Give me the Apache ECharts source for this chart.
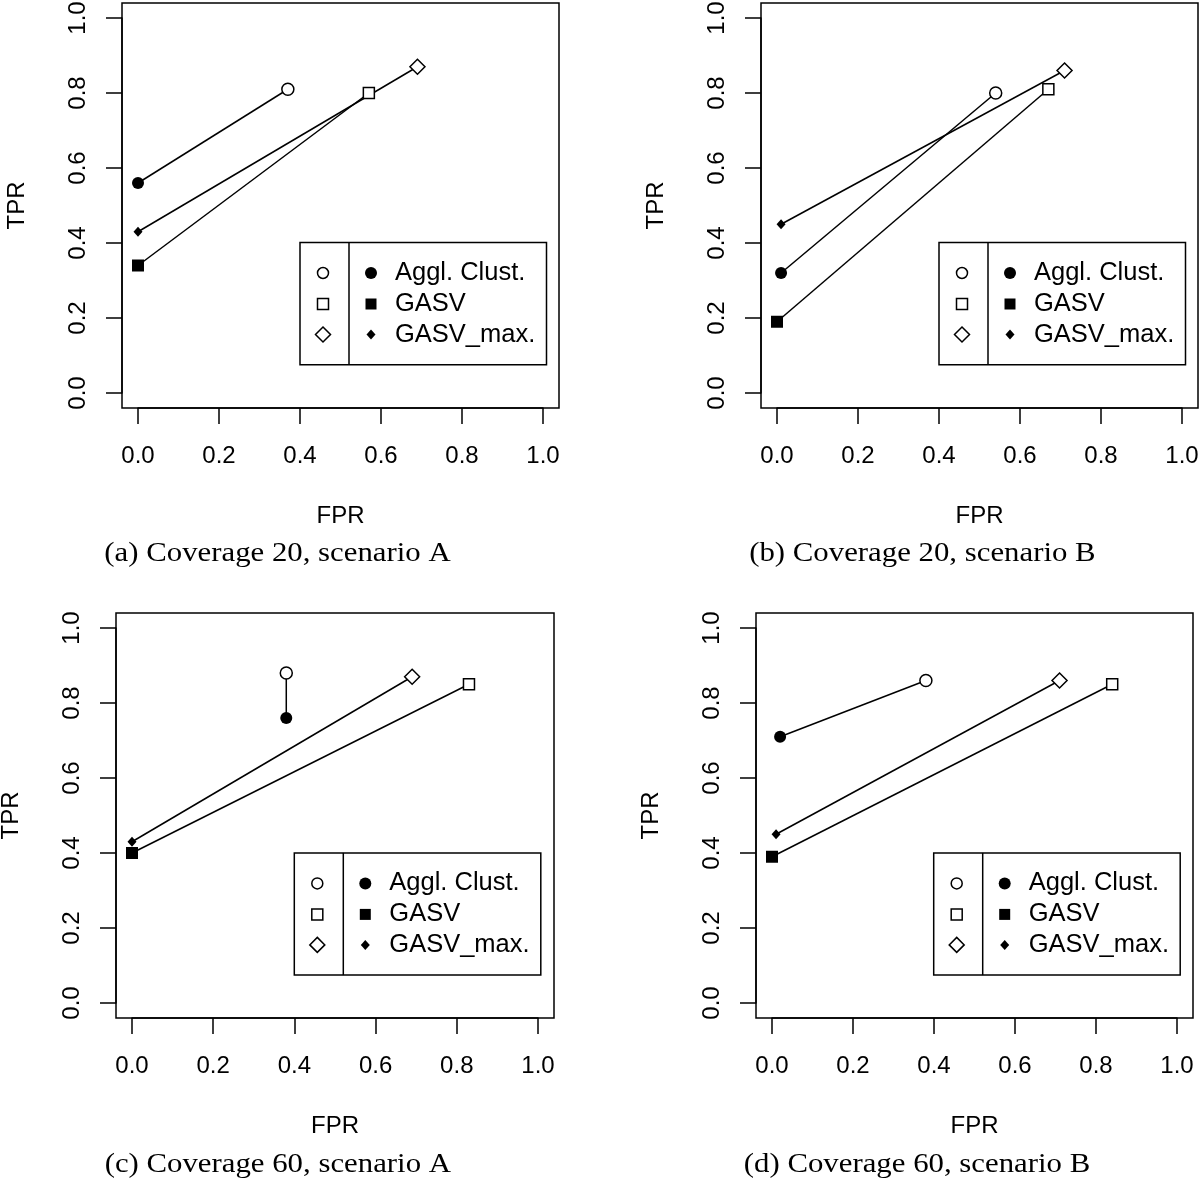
<!DOCTYPE html>
<html><head><meta charset="utf-8">
<script src="https://cdn.jsdelivr.net/npm/echarts@6/dist/echarts.min.js"></script>
<style>html,body{margin:0;padding:0;background:#fff}#c{width:1200px;height:1181px}</style>
</head><body><div id="c"></div>
<script>
// ---------- data ----------
const methods = ['Aggl. Clust.', 'GASV', 'GASV_max.'];
const captions = ['(a) Coverage 20, scenario A', '(b) Coverage 20, scenario B',
                  '(c) Coverage 60, scenario A', '(d) Coverage 60, scenario B'];
const tickValues = [0, 0.2, 0.4, 0.6, 0.8, 1.0];
const xTitle = 'FPR';
const yTitle = 'TPR';

// open symbols (one value per method) and filled symbols
const aOpenFPR = [0.37, 0.57, 0.69], aOpenTPR = [0.81, 0.80, 0.87];
const aFillFPR = [0.00, 0.00, 0.00], aFillTPR = [0.56, 0.34, 0.43];
const bOpenFPR = [0.54, 0.67, 0.71], bOpenTPR = [0.80, 0.81, 0.86];
const bFillFPR = [0.01, 0.00, 0.01], bFillTPR = [0.32, 0.19, 0.45];
const cOpenFPR = [0.38, 0.83, 0.69], cOpenTPR = [0.88, 0.85, 0.87];
const cFillFPR = [0.38, 0.00, 0.00], cFillTPR = [0.76, 0.40, 0.43];
const dOpenFPR = [0.38, 0.84, 0.71], dOpenTPR = [0.86, 0.85, 0.86];
const dFillFPR = [0.02, 0.00, 0.01], dFillTPR = [0.71, 0.39, 0.45];

const panelData = [
  [aOpenFPR, aOpenTPR, aFillFPR, aFillTPR],
  [bOpenFPR, bOpenTPR, bFillFPR, bFillTPR],
  [cOpenFPR, cOpenTPR, cFillFPR, cFillTPR],
  [dOpenFPR, dOpenTPR, dFillFPR, dFillTPR]
];

// ---------- layout & style ----------
const SANS = 'Liberation Sans, Arial, Helvetica, sans-serif';
const SERIF = 'Liberation Serif, Times New Roman, serif';
const FS = 24;
const LFS = 25.5;
const LW = 1.5;
const grids = [
  {left: 138, top: 18, width: 405, height: 375},
  {left: 777, top: 18, width: 405, height: 375},
  {left: 132, top: 628, width: 406, height: 375},
  {left: 772, top: 628, width: 405, height: 375}
];
const padX = 16, padY = 15;   // R's 4% range extension, in px
const captionPos = [[277.5, 553.7], [922.4, 553.7], [277.8, 1164.8], [917, 1164.8]];
const legendPos = [[300, 242.5], [939, 242.5], [294.3, 852.9], [933.7, 852.9]];

const openSym = ['circle', 'rect', 'diamond'];
const openSize = [12, 11, [15, 15]];
const fillSym = ['circle', 'rect', 'diamond'];
const fillSize = [12, 12, [9, 10]];

const option = {
  animation: false,
  backgroundColor: '#fff',
  grid: [], xAxis: [], yAxis: [], series: [], graphic: []
};

grids.forEach((g, p) => {
  option.grid.push({left: g.left, top: g.top, width: g.width, height: g.height,
                    containLabel: false, outerBoundsMode: 'none'});
  option.xAxis.push({
    type: 'value', gridIndex: p, min: 0, max: 1, interval: 0.2, offset: padY,
    axisLine: {show: true, onZero: false, lineStyle: {color: '#000', width: LW}},
    axisTick: {show: true, length: 16, lineStyle: {color: '#000', width: LW}},
    axisLabel: {formatter: v => v.toFixed(1), fontSize: FS, fontFamily: SANS, color: '#000', margin: 36,
                showMinLabel: true, showMaxLabel: true},
    splitLine: {show: false},
    name: xTitle, nameLocation: 'middle', nameGap: 96,
    nameTextStyle: {fontSize: FS, fontFamily: SANS, color: '#000'}
  });
  option.yAxis.push({
    type: 'value', gridIndex: p, min: 0, max: 1, interval: 0.2, offset: padX,
    axisLine: {show: true, onZero: false, lineStyle: {color: '#000', width: LW}},
    axisTick: {show: true, length: 16, lineStyle: {color: '#000', width: LW}},
    axisLabel: {formatter: v => v.toFixed(1), fontSize: FS, fontFamily: SANS, color: '#000', margin: 32,
                rotate: 90, showMinLabel: true, showMaxLabel: true},
    splitLine: {show: false},
    name: yTitle, nameLocation: 'middle', nameGap: 93,
    nameTextStyle: {fontSize: FS, fontFamily: SANS, color: '#000'}
  });

  const [oF, oT, fF, fT] = panelData[p];
  methods.forEach((m, i) => {
    option.series.push({
      type: 'line', name: m + ' ' + p, xAxisIndex: p, yAxisIndex: p,
      clip: false, silent: true, showSymbol: true, showAllSymbol: true,
      lineStyle: {color: '#000', width: LW},
      emphasis: {disabled: true},
      data: [
        {value: [oF[i], oT[i]], symbol: openSym[i], symbolSize: openSize[i],
         itemStyle: {color: '#fff', borderColor: '#000', borderWidth: LW}},
        {value: [fF[i], fT[i]], symbol: fillSym[i], symbolSize: fillSize[i],
         itemStyle: {color: '#000', borderColor: '#000', borderWidth: 0}}
      ]
    });
  });

  // plot box (R-style: range extended 4% on each side)
  option.graphic.push({
    type: 'rect', silent: true, z: 100,
    shape: {x: g.left - padX, y: g.top - padY, width: g.width + 2 * padX, height: g.height + 2 * padY},
    style: {fill: 'none', stroke: '#000', lineWidth: LW}
  });

  // caption
  option.graphic.push({
    type: 'text', silent: true, z: 100, x: captionPos[p][0], y: captionPos[p][1], scaleX: 1.1,
    style: {text: captions[p], x: 0, y: 0, align: 'center',
            verticalAlign: 'middle', fontSize: 28, fontFamily: SERIF, fill: '#000'}
  });

  // legend
  const [lx, ly] = legendPos[p];
  const W = 246.5, H = 122.2;
  option.graphic.push({type: 'rect', silent: true, z: 100,
    shape: {x: lx, y: ly, width: W, height: H}, style: {fill: '#fff', stroke: '#000', lineWidth: LW}});
  option.graphic.push({type: 'line', silent: true, z: 101,
    shape: {x1: lx + 49, y1: ly, x2: lx + 49, y2: ly + H}, style: {stroke: '#000', lineWidth: LW}});
  const rows = [30.5, 61.5, 92];
  methods.forEach((m, i) => {
    const cy = ly + rows[i];
    const xo = lx + 23, xf = lx + 71;
    const openStyle = {fill: '#fff', stroke: '#000', lineWidth: LW};
    const fillStyle = {fill: '#000'};
    if (i === 0) {
      option.graphic.push({type: 'circle', silent: true, z: 102, shape: {cx: xo, cy: cy, r: 5.5}, style: openStyle});
      option.graphic.push({type: 'circle', silent: true, z: 102, shape: {cx: xf, cy: cy, r: 6}, style: fillStyle});
    } else if (i === 1) {
      option.graphic.push({type: 'rect', silent: true, z: 102, shape: {x: xo - 5.5, y: cy - 5.5, width: 11, height: 11}, style: openStyle});
      option.graphic.push({type: 'rect', silent: true, z: 102, shape: {x: xf - 5.5, y: cy - 5.5, width: 11, height: 11}, style: fillStyle});
    } else {
      option.graphic.push({type: 'polygon', silent: true, z: 102,
        shape: {points: [[xo, cy - 7.5], [xo + 7.5, cy], [xo, cy + 7.5], [xo - 7.5, cy]]}, style: openStyle});
      option.graphic.push({type: 'polygon', silent: true, z: 102,
        shape: {points: [[xf, cy - 5], [xf + 4.5, cy], [xf, cy + 5], [xf - 4.5, cy]]}, style: fillStyle});
    }
    option.graphic.push({type: 'text', silent: true, z: 102,
      style: {text: m, x: lx + 95, y: cy, align: 'left', verticalAlign: 'middle',
              fontSize: LFS, fontFamily: SANS, fill: '#000'}});
  });
});

const chart = echarts.init(document.getElementById('c'), null, {renderer: 'canvas'});
chart.setOption(option);
</script>
</body></html>
